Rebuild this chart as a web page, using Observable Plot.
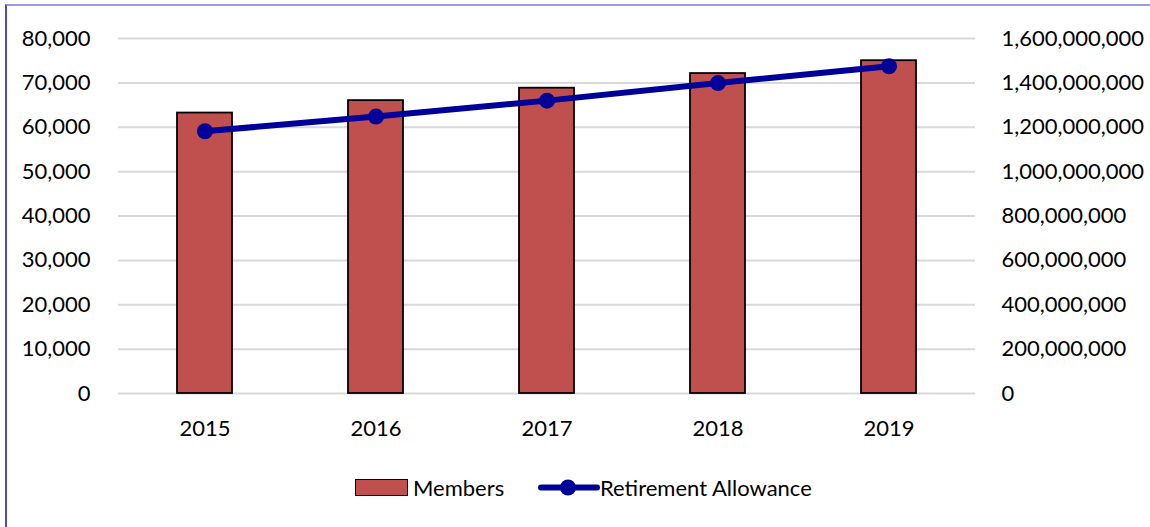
<!DOCTYPE html>
<html>
<head>
<meta charset="utf-8">
<script src="https://cdn.jsdelivr.net/npm/d3@7"></script>
<script src="https://cdn.jsdelivr.net/npm/@observablehq/plot@0.6"></script>
<style>
  html, body { margin: 0; padding: 0; background: #fff; }
  body { width: 1150px; height: 527px; position: relative; overflow: hidden; font-family: Lato, "Open Sans", sans-serif; }
  #frame { position: absolute; left: 5px; top: 4px; width: 1160px; height: 540px;
           border-left: 2px solid #4b4bc8; border-top: 2px solid #9a9ae6; }
  #chart { position: absolute; left: 0; top: 0; }
  #legend { position: absolute; top: 476px; left: 0; width: 1150px; height: 24px; font-size: 22px; color: #000; }
  .sw { position: absolute; }
  .lab { position: absolute; top: 0; line-height: 24px; white-space: nowrap; }
</style>
</head>
<body>
<div id="frame"></div>
<div id="chart"></div>
<div id="legend">
  <div class="sw" style="left:355px; top:3px; width:51px; height:15px; background:#c0504d; border:1.5px solid #000;"></div>
  <div class="lab" style="left:413px;">Members</div>
  <svg class="sw" style="left:538px; top:0px;" width="62" height="24">
    <line x1="3" x2="59" y1="11.5" y2="11.5" stroke="#000099" stroke-width="6" stroke-linecap="round"></line>
    <circle cx="30" cy="11.5" r="8" fill="#000099"></circle>
  </svg>
  <div class="lab" style="left:600px;">Retirement Allowance</div>
</div>
<script>
const years = ["2015", "2016", "2017", "2018", "2019"];
const members = [63200, 66000, 68800, 72100, 75000];
const allowance = [1182000000, 1248000000, 1320000000, 1399000000, 1475000000];
const leftTicks = [0, 10000, 20000, 30000, 40000, 50000, 60000, 70000, 80000];
const rightTicks = [0, 200000000, 400000000, 600000000, 800000000, 1000000000, 1200000000, 1400000000, 1600000000];

const ratio = rightTicks[rightTicks.length - 1] / leftTicks[leftTicks.length - 1];
const data = years.map((y, i) => ({ year: y, members: members[i], allowance: allowance[i] }));
const fmt = d3.format(",");

const chart = Plot.plot({
  width: 1150,
  height: 460,
  marginLeft: 118,
  marginRight: 175,
  marginTop: 38,
  marginBottom: 67,
  style: { fontFamily: "Lato, 'Open Sans', sans-serif", fontSize: "22px", color: "#000", background: "transparent" },
  x: { domain: years, paddingInner: 0.68, paddingOuter: 0.34, label: null },
  y: { domain: [0, 80000], label: null },
  marks: [
    Plot.ruleY(leftTicks, { stroke: "#d9d9d9", strokeWidth: 2 }),
    Plot.barY(data, { x: "year", y: "members", fill: "#c0504d", stroke: "#000", strokeWidth: 1.8 }),
    Plot.line(data, { x: "year", y: d => d.allowance / ratio, stroke: "#000099", strokeWidth: 6 }),
    Plot.dot(data, { x: "year", y: d => d.allowance / ratio, r: 8, fill: "#000099" }),
    Plot.axisX({ tickSize: 0, tickPadding: 27, fontSize: 22, label: null }),
    Plot.axisY({ anchor: "left", ticks: leftTicks, tickSize: 0, tickPadding: 28, tickFormat: fmt, fontSize: 22, label: null }),
    Plot.axisY({ anchor: "right", ticks: rightTicks.map(v => v / ratio), tickSize: 0, tickPadding: 26,
                 tickFormat: d => fmt(Math.round(d * ratio)), fontSize: 22, label: null })
  ]
});
document.getElementById("chart").appendChild(chart);
</script>
</body>
</html>
